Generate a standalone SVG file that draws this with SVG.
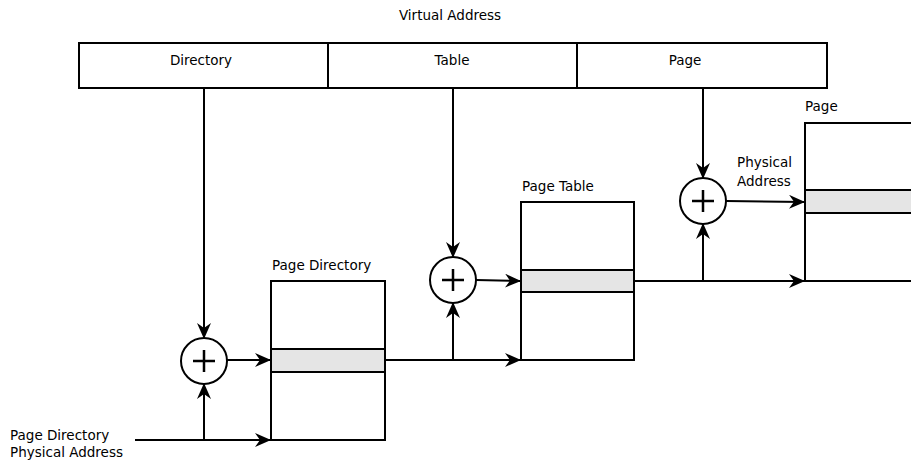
<svg xmlns="http://www.w3.org/2000/svg" width="911" height="465" viewBox="0 0 911 465">
<style>
text{font-family:"DejaVu Sans",sans-serif;font-size:13.5px;fill:#000}
.b{fill:#fff;stroke:#000;stroke-width:2}
.g{fill:#e5e5e5;stroke:#000;stroke-width:2}
.l{fill:none;stroke:#000;stroke-width:2}
.p{fill:none;stroke:#000;stroke-width:2.5}
.a{fill:none;stroke:#000;stroke-width:2;marker-end:url(#ah)}
</style>
<defs>
<marker id="ah" viewBox="0 0 16 14" markerWidth="16" markerHeight="14" refX="15" refY="7" orient="auto" markerUnits="userSpaceOnUse">
<path d="M0,0 L16,7 L0,14 L5,7 z" fill="#000"/>
</marker>
</defs>
<text x="450" y="20" text-anchor="middle">Virtual Address</text>
<g id="va">
<rect class="b" x="79" y="43" width="748" height="45"/>
<line class="l" x1="328" y1="43" x2="328" y2="88"/>
<line class="l" x1="577" y1="43" x2="577" y2="88"/>
<text x="201" y="65" text-anchor="middle">Directory</text>
<text x="452" y="65" text-anchor="middle">Table</text>
<text x="685" y="65" text-anchor="middle">Page</text>
</g>
<g id="pd">
<text x="272" y="270">Page Directory</text>
<rect class="b" x="271" y="281" width="114" height="159"/>
<rect class="g" x="271" y="349" width="114" height="23"/>
</g>
<g id="pt">
<text x="522" y="191">Page Table</text>
<rect class="b" x="521" y="202" width="113" height="158"/>
<rect class="g" x="521" y="270" width="113" height="22"/>
</g>
<g id="pg">
<text x="805" y="111">Page</text>
<rect class="b" x="805" y="123" width="110" height="158"/>
<rect class="g" x="805" y="190" width="110" height="23"/>
</g>
<g id="c1">
<circle class="b" cx="204" cy="361" r="23"/>
<path class="p" d="M193,361 H215 M204,350 V372"/>
</g>
<g id="c2">
<circle class="b" cx="453" cy="280" r="23"/>
<path class="p" d="M442,280 H464 M453,269 V291"/>
</g>
<g id="c3">
<circle class="b" cx="703" cy="201" r="23"/>
<path class="p" d="M692,201 H714 M703,190 V212"/>
</g>
<g id="labels">
<text x="10" y="440">Page Directory</text>
<text x="10" y="457">Physical Address</text>
<text x="737" y="167">Physical</text>
<text x="737" y="186">Address</text>
</g>
<g id="connectors">
<line class="a" x1="204" y1="88" x2="204" y2="338"/>
<line class="a" x1="135" y1="440" x2="270" y2="440"/>
<line class="a" x1="204" y1="440" x2="204" y2="384"/>
<line class="a" x1="227" y1="360" x2="270" y2="360"/>
<line class="a" x1="453" y1="88" x2="453" y2="257"/>
<line class="a" x1="385" y1="360" x2="520" y2="360"/>
<line class="a" x1="453" y1="360" x2="453" y2="303"/>
<line class="a" x1="476" y1="280" x2="520" y2="281"/>
<line class="a" x1="703" y1="88" x2="703" y2="178"/>
<line class="a" x1="634" y1="281" x2="804" y2="281"/>
<line class="a" x1="703" y1="281" x2="703" y2="224"/>
<line class="a" x1="726" y1="201" x2="804" y2="202"/>
</g>
</svg>
